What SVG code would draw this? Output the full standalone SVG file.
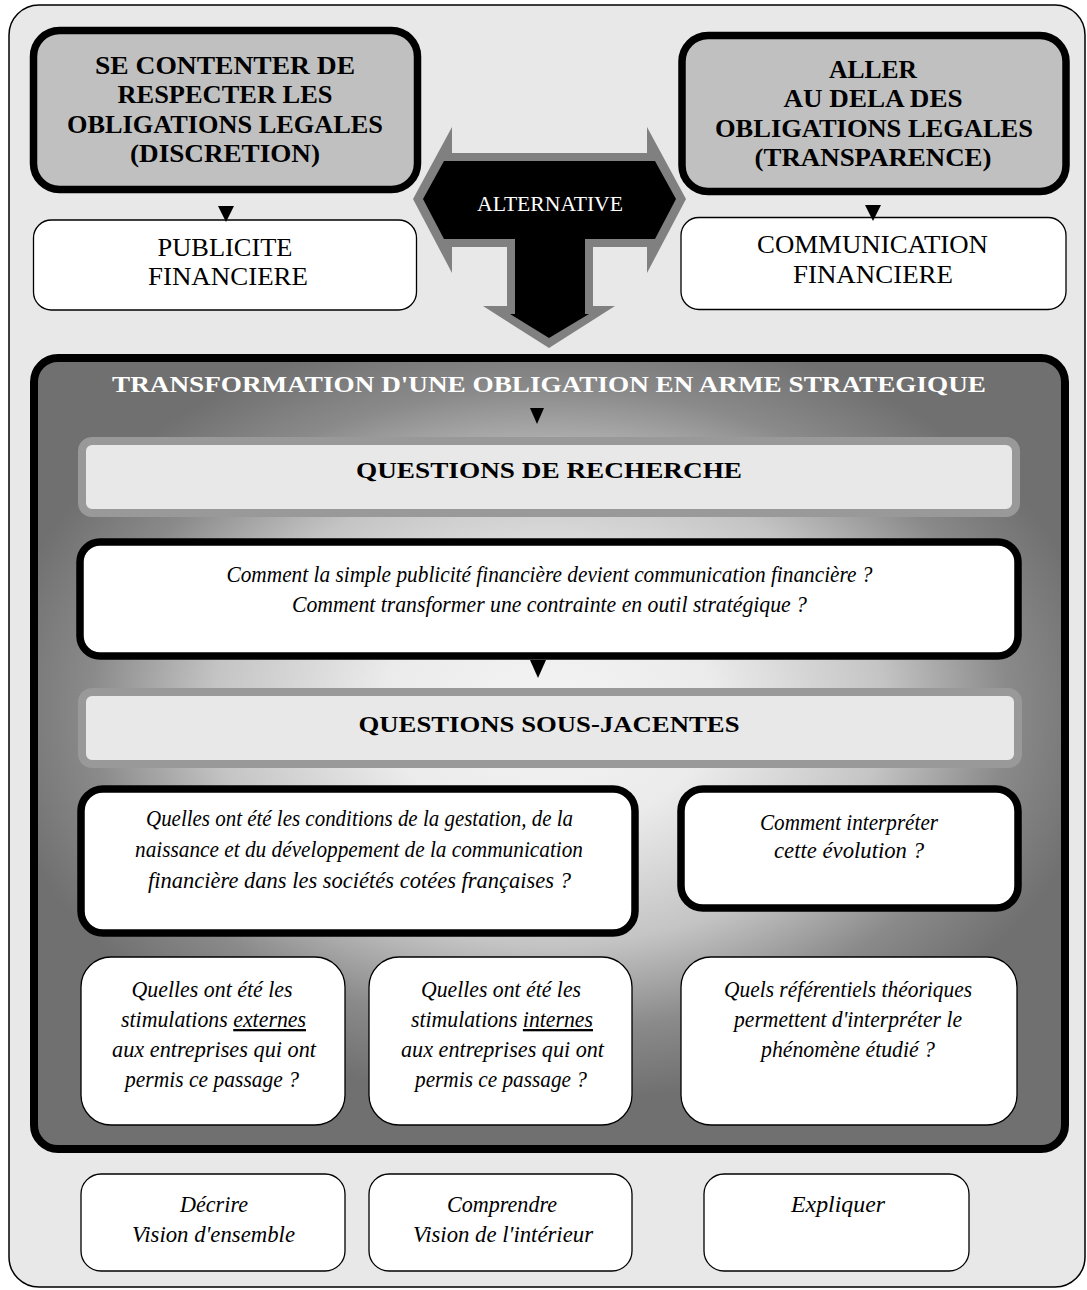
<svg xmlns="http://www.w3.org/2000/svg" width="1087" height="1290" viewBox="0 0 1087 1290">
  <defs>
    <radialGradient id="panelGrad" gradientUnits="userSpaceOnUse" cx="549" cy="710" r="560" gradientTransform="translate(549 710) scale(1 0.7) translate(-549 -710)">
      <stop offset="0" stop-color="#f4f4f4"/>
      <stop offset="0.3" stop-color="#ebebeb"/>
      <stop offset="0.6" stop-color="#c4c4c4"/>
      <stop offset="0.82" stop-color="#8a8a8a"/>
      <stop offset="1" stop-color="#707070"/>
    </radialGradient>
    <style>
      .hd { font-family: "Liberation Serif", "DejaVu Serif", serif; font-weight: bold; font-size: 26px; fill: #000; text-anchor: middle; }
      .reg { font-family: "Liberation Serif", "DejaVu Serif", serif; font-size: 26px; fill: #000; text-anchor: middle; }
      .it { font-family: "Liberation Serif", "DejaVu Serif", serif; font-style: italic; font-size: 23px; fill: #000; text-anchor: middle; }
      .sec { font-family: "Liberation Serif", "DejaVu Serif", serif; font-weight: bold; font-size: 24px; fill: #000; text-anchor: middle; }
      .thick { stroke: #000; stroke-width: 7.5; }
      .grayBox { fill: #c0c0c0; }
      .thin { fill: #fff; stroke: #000; stroke-width: 1.3; }
      .band { fill: #e8e8e8; stroke: #999; stroke-width: 8; }
      .tri { fill: #000; }
    </style>
  </defs>

  <g id="frame">
    <rect x="9" y="5" width="1076" height="1282" rx="30" fill="#e8e8e8" stroke="#000" stroke-width="1.5"/>
  </g>

  <g id="discretion">
    <rect x="33.5" y="30.5" width="384" height="159" rx="26" class="grayBox thick"/>
    <text class="hd" x="225" y="74" textLength="260" lengthAdjust="spacingAndGlyphs">SE CONTENTER DE</text>
    <text class="hd" x="225" y="103" textLength="215" lengthAdjust="spacingAndGlyphs">RESPECTER LES</text>
    <text class="hd" x="225" y="133" textLength="316" lengthAdjust="spacingAndGlyphs">OBLIGATIONS LEGALES</text>
    <text class="hd" x="225" y="162" textLength="190" lengthAdjust="spacingAndGlyphs">(DISCRETION)</text>
  </g>

  <g id="transparence">
    <rect x="682" y="35.5" width="384" height="156" rx="26" class="grayBox thick"/>
    <text class="hd" x="873" y="78" textLength="88" lengthAdjust="spacingAndGlyphs">ALLER</text>
    <text class="hd" x="873" y="107" textLength="179" lengthAdjust="spacingAndGlyphs">AU DELA DES</text>
    <text class="hd" x="874" y="137" textLength="318" lengthAdjust="spacingAndGlyphs">OBLIGATIONS LEGALES</text>
    <text class="hd" x="873" y="166" textLength="237" lengthAdjust="spacingAndGlyphs">(TRANSPARENCE)</text>
  </g>

  <g id="publicite">
    <rect x="33.5" y="220" width="383" height="90" rx="18" class="thin"/>
    <text class="reg" x="225" y="256" textLength="135" lengthAdjust="spacingAndGlyphs">PUBLICITE</text>
    <text class="reg" x="228" y="285" textLength="160" lengthAdjust="spacingAndGlyphs">FINANCIERE</text>
  </g>

  <g id="communication">
    <rect x="681" y="217.5" width="385" height="92" rx="18" class="thin"/>
    <text class="reg" x="872.5" y="253" textLength="231" lengthAdjust="spacingAndGlyphs">COMMUNICATION</text>
    <text class="reg" x="873" y="283" textLength="160" lengthAdjust="spacingAndGlyphs">FINANCIERE</text>
  </g>

  <g id="alternative">
    <polygon fill="#808080" points="413,199 452,127 452,153 647,153 647,127 686,199 647,273 647,247 593,247 593,306 615,306 549,348 483,306 507,306 507,247 452,247 452,273"/>
    <polygon fill="#000" points="423,199 444,161 655,161 676,199 655,239 585,239 585,314 589,314 549,338 510,314 515,314 515,239 444,239"/>
    <text x="550" y="211" font-family="Liberation Serif, DejaVu Serif, serif" font-size="20" fill="#fff" text-anchor="middle" textLength="146" lengthAdjust="spacingAndGlyphs">ALTERNATIVE</text>
  </g>

  <g id="panel">
    <rect x="34" y="358" width="1031" height="791" rx="24" fill="url(#panelGrad)" stroke="#000" stroke-width="8"/>
    <text class="sec" x="549" y="392" style="fill:#fff" textLength="874" lengthAdjust="spacingAndGlyphs">TRANSFORMATION D'UNE OBLIGATION EN ARME STRATEGIQUE</text>
  </g>

  <g id="questions-recherche">
    <rect x="82" y="441" width="934" height="72" rx="10" class="band"/>
    <text class="sec" x="549" y="478" textLength="386" lengthAdjust="spacingAndGlyphs">QUESTIONS DE RECHERCHE</text>
  </g>

  <g id="question-principale">
    <rect x="80" y="542" width="938" height="114" rx="20" fill="#fff" class="thick"/>
    <text class="it" x="549.5" y="582" textLength="646" lengthAdjust="spacingAndGlyphs">Comment la simple publicité financière devient communication financière ?</text>
    <text class="it" x="549.5" y="612" textLength="515" lengthAdjust="spacingAndGlyphs">Comment transformer  une contrainte en outil stratégique ?</text>
  </g>

  <g id="questions-sous-jacentes">
    <rect x="82" y="692" width="936" height="72" rx="10" class="band"/>
    <text class="sec" x="549" y="732" textLength="381" lengthAdjust="spacingAndGlyphs">QUESTIONS SOUS-JACENTES</text>
  </g>

  <g id="question-conditions">
    <rect x="81" y="789" width="554" height="144" rx="22" fill="#fff" class="thick"/>
    <text class="it" x="359.5" y="826" textLength="427" lengthAdjust="spacingAndGlyphs">Quelles ont été les conditions de la gestation, de la</text>
    <text class="it" x="359" y="857" textLength="448" lengthAdjust="spacingAndGlyphs">naissance et du développement de la communication</text>
    <text class="it" x="359.5" y="888" textLength="423" lengthAdjust="spacingAndGlyphs">financière dans les sociétés cotées françaises ?</text>
  </g>

  <g id="question-interpreter">
    <rect x="681" y="789" width="337" height="119" rx="22" fill="#fff" class="thick"/>
    <text class="it" x="849" y="830" textLength="178" lengthAdjust="spacingAndGlyphs">Comment interpréter</text>
    <text class="it" x="849" y="858" textLength="150" lengthAdjust="spacingAndGlyphs">cette évolution ?</text>
  </g>

  <g id="stimulations-externes">
    <rect x="81" y="957" width="264" height="168" rx="30" class="thin"/>
    <text class="it" x="212" y="997" textLength="161" lengthAdjust="spacingAndGlyphs">Quelles ont été les</text>
    <text class="it" x="213.5" y="1027" textLength="185" lengthAdjust="spacingAndGlyphs">stimulations <tspan text-decoration="underline">externes</tspan></text>
    <text class="it" x="214" y="1057" textLength="204" lengthAdjust="spacingAndGlyphs">aux entreprises qui ont</text>
    <text class="it" x="212" y="1087" textLength="174" lengthAdjust="spacingAndGlyphs">permis ce passage ?</text>
  </g>

  <g id="stimulations-internes">
    <rect x="369" y="957" width="263" height="168" rx="30" class="thin"/>
    <text class="it" x="501" y="997" textLength="160" lengthAdjust="spacingAndGlyphs">Quelles ont été les</text>
    <text class="it" x="502" y="1027" textLength="182" lengthAdjust="spacingAndGlyphs">stimulations <tspan text-decoration="underline">internes</tspan></text>
    <text class="it" x="502.5" y="1057" textLength="203" lengthAdjust="spacingAndGlyphs">aux entreprises qui ont</text>
    <text class="it" x="501" y="1087" textLength="172" lengthAdjust="spacingAndGlyphs">permis ce passage ?</text>
  </g>

  <g id="referentiels">
    <rect x="681" y="957" width="336" height="168" rx="30" class="thin"/>
    <text class="it" x="848" y="997" textLength="248" lengthAdjust="spacingAndGlyphs">Quels référentiels théoriques</text>
    <text class="it" x="848" y="1027" textLength="228" lengthAdjust="spacingAndGlyphs">permettent d'interpréter le</text>
    <text class="it" x="848" y="1057" textLength="174" lengthAdjust="spacingAndGlyphs">phénomène étudié ?</text>
  </g>

  <g id="decrire">
    <rect x="81" y="1174" width="264" height="97" rx="20" class="thin" stroke-width="1.6"/>
    <text class="it" x="214" y="1212" textLength="68" lengthAdjust="spacingAndGlyphs">Décrire</text>
    <text class="it" x="213.5" y="1242" textLength="163" lengthAdjust="spacingAndGlyphs">Vision d'ensemble</text>
  </g>

  <g id="comprendre">
    <rect x="369" y="1174" width="263" height="97" rx="20" class="thin" stroke-width="1.6"/>
    <text class="it" x="502" y="1212" textLength="110" lengthAdjust="spacingAndGlyphs">Comprendre</text>
    <text class="it" x="503" y="1242" textLength="180" lengthAdjust="spacingAndGlyphs">Vision de l'intérieur</text>
  </g>

  <g id="expliquer">
    <rect x="704" y="1174" width="265" height="97" rx="20" class="thin" stroke-width="1.6"/>
    <text class="it" x="838" y="1212" textLength="94" lengthAdjust="spacingAndGlyphs">Expliquer</text>
  </g>

  <g id="connectors">
    <polygon class="tri" points="218,206 234,206 226,222"/>
    <polygon class="tri" points="865,205 881,205 873,221"/>
    <polygon class="tri" points="530,408 544,408 537,424"/>
    <polygon class="tri" points="530,660 546,660 538,678"/>
  </g>
</svg>
